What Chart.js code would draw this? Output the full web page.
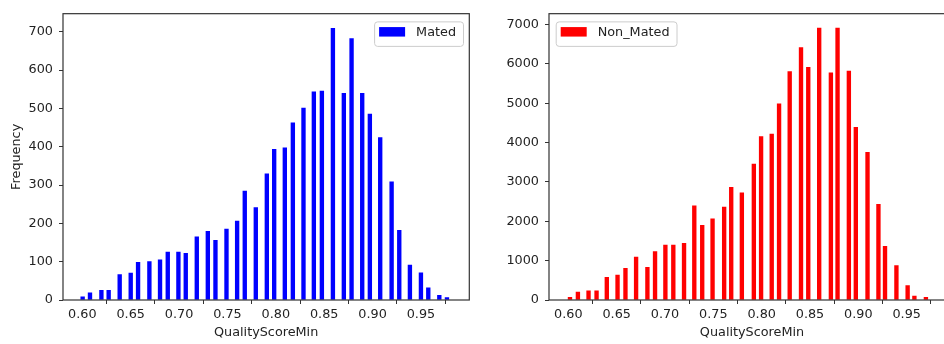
<!DOCTYPE html>
<html><head><meta charset="utf-8">
<script src="https://cdn.jsdelivr.net/npm/chart.js@4/dist/chart.umd.min.js"></script>
<style>
html,body{margin:0;background:#fff;overflow:hidden;width:944px;height:344px}
canvas{position:absolute;top:0}
#mated{left:0}
#nonMated{left:486px}
</style></head><body>
<canvas id="mated" width="480" height="344"></canvas>
<canvas id="nonMated" width="470" height="344"></canvas>
<script>
// bin centres (QualityScoreMin) and counts
const matedBins=[0.6003,0.6079,0.6197,0.6272,0.6386,0.6500,0.6576,0.6693,0.6803,0.6883,0.6993,0.7069,0.7183,0.7297,0.7376,0.7490,0.7600,0.7679,0.7793,0.7907,0.7983,0.8093,0.8176,0.8286,0.8393,0.8476,0.8590,0.8703,0.8783,0.8893,0.8972,0.9079,0.9197,0.9276,0.9386,0.9500,0.9576,0.9690,0.9769];
const matedCounts=[8,19,25,25,66,70,98,100,105,125,125,122,165,179,156,185,206,284,241,329,393,397,462,501,543,545,709,539,682,539,485,424,308,182,91,71,32,12,6];
const nonMatedBins=[0.6017,0.6099,0.6209,0.6292,0.6398,0.6509,0.6591,0.6701,0.6818,0.6897,0.7004,0.7086,0.7197,0.7303,0.7385,0.7492,0.7612,0.7685,0.7795,0.7919,0.7994,0.8104,0.8180,0.8290,0.8407,0.8482,0.8595,0.8716,0.8785,0.8902,0.8974,0.9095,0.9208,0.9276,0.9394,0.9510,0.9580,0.9699];
const nonMatedCounts=[66,200,232,232,573,631,805,1088,830,1229,1395,1395,1437,2392,1900,2060,2358,2865,2724,3454,4152,4218,4982,5805,6411,5912,6909,5771,6909,5813,4384,3753,2433,1362,872,365,100,66];
const xTicks=[0.60,0.65,0.70,0.75,0.80,0.85,0.90,0.95];
const matedYTicks=[0,100,200,300,400,500,600,700];
const nonMatedYTicks=[0,1000,2000,3000,4000,5000,6000,7000];

const FONT='12.8px "DejaVu Sans"', INK='#222', SPINE='#333';
Chart.defaults.font.family='"DejaVu Sans"'; Chart.defaults.font.size=12.8; Chart.defaults.color=INK;

const frame={id:'frame',afterDatasetsDraw(c){
 const a=c.chartArea, x=c.ctx; x.save(); x.strokeStyle=SPINE; x.lineWidth=1.2;
 x.strokeRect(a.left,a.top,a.right-a.left,a.bottom-a.top); x.restore();
}};
const boxLegend={id:'boxLegend',afterDraw(c,args,o){
 const ds=c.data.datasets[0], x=c.ctx, a=c.chartArea;
 x.save(); x.font=FONT; const tw=x.measureText(ds.label).width;
 const w=5+26+11+tw+7, h=24.5, top=a.top+7.7, left=o.side==='right'?a.right-6.3-w:a.left+6.7;
 x.beginPath(); x.roundRect(left+.5,top+.5,w,h,3);
 x.fillStyle='rgba(255,255,255,0.8)'; x.fill(); x.strokeStyle='#ccc'; x.lineWidth=1; x.stroke();
 x.fillStyle=ds.backgroundColor; x.fillRect(left+5,top+5.7,26,9.5);
 x.fillStyle=INK; x.textBaseline='middle'; x.textAlign='left'; x.fillText(ds.label,left+42,top+11.5);
 x.restore();
}};

function hist(id,bins,counts,label,color,yTicks,yMax,yTitle,legendSide,pad){
 return new Chart(document.getElementById(id),{
  type:'bar',
  data:{datasets:[{label,data:bins.map((b,i)=>({x:b,y:counts[i]})),backgroundColor:color,borderWidth:0,barThickness:3.7}]},
  plugins:[frame,boxLegend],
  options:{
   responsive:false,animation:false,events:[],
   layout:{padding:pad},
   plugins:{legend:{display:false},tooltip:{enabled:false},boxLegend:{side:legendSide}},
   scales:{
    x:{type:'linear',min:0.58,max:1.0,offset:false,
     afterBuildTicks:s=>{s.ticks=xTicks.map(v=>({value:v}))},
     afterFit:s=>{s.height=44},
     ticks:{callback:v=>v.toFixed(2),maxRotation:0,autoSkip:false,padding:3,color:INK},
     grid:{drawOnChartArea:false,tickLength:4,color:SPINE},border:{display:false},
     title:{display:true,text:'QualityScoreMin',color:INK,padding:{top:4,bottom:3.5}}},
    y:{min:0,max:yMax,
     afterBuildTicks:s=>{s.ticks=yTicks.map(v=>({value:v}))},
     afterFit:s=>{s.width=63},
     ticks:{callback:v=>String(v),padding:6,color:INK},
     grid:{drawOnChartArea:false,tickLength:4,color:SPINE},border:{display:false},
     title:{display:!!yTitle,text:yTitle,color:INK,padding:{top:9,bottom:4}}}
   }
  }
 });
}

hist('mated',matedBins,matedCounts,'Mated','#0000ff',matedYTicks,747,'Frequency','right',{left:0,right:10.7,top:7.3,bottom:0});
hist('nonMated',nonMatedBins,nonMatedCounts,'Non_Mated','#ff0000',nonMatedYTicks,7274,'','left',{left:0,right:1,top:7.3,bottom:0});
</script>
</body></html>
